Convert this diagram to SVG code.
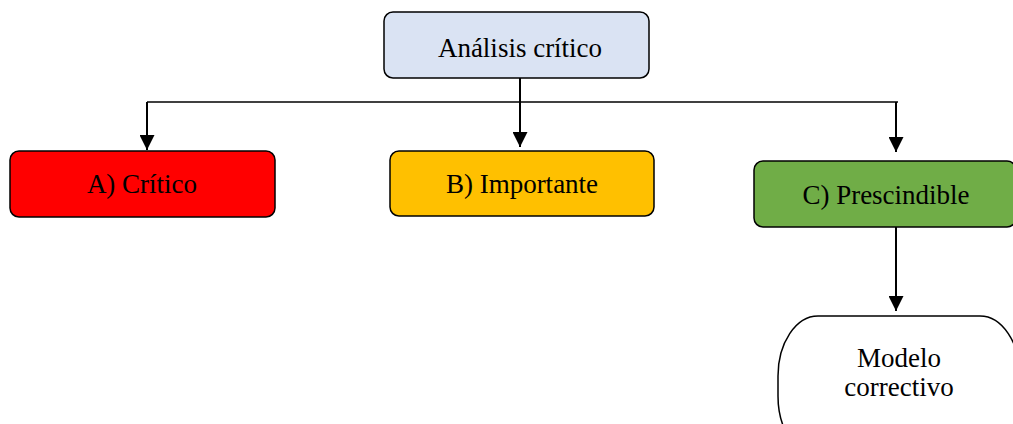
<svg xmlns="http://www.w3.org/2000/svg" width="1013" height="424" viewBox="0 0 1013 424">
  <style>
    .box { stroke: #000; stroke-width: 1.5; }
    .lbl { font-family: 'Liberation Serif', 'Times New Roman', Times, serif; font-size: 27px; fill: #000; text-anchor: middle; }
    .wire { stroke: #000; stroke-width: 1.5; fill: none; }
    .arrow { stroke: #000; stroke-width: 2; fill: none; marker-end: url(#head); }
  </style>
  <defs>
    <marker id="head" viewBox="0 0 10 10" refX="10" refY="5" markerWidth="15" markerHeight="15" markerUnits="userSpaceOnUse" orient="auto" preserveAspectRatio="none">
      <path d="M0,0 L10,5 L0,10 z" fill="#000"/>
    </marker>
  </defs>
  <rect width="1013" height="424" fill="#fff"/>

  <g id="connectors">
    <line class="wire" x1="147" y1="102" x2="898" y2="102"/>
    <line class="arrow" x1="520" y1="78" x2="520" y2="147"/>
    <line class="arrow" x1="147" y1="102" x2="147" y2="150"/>
    <line class="arrow" x1="896" y1="102" x2="896" y2="152"/>
    <line class="arrow" x1="896" y1="227" x2="896" y2="311"/>
  </g>

  <g id="analisis">
    <rect class="box" x="384" y="12" width="265" height="66" rx="9" fill="#DAE3F3"/>
    <text class="lbl" x="520" y="57">Análisis crítico</text>
  </g>
  <g id="critico">
    <rect class="box" x="10" y="151" width="265" height="66" rx="9" fill="#FF0000"/>
    <text class="lbl" x="142" y="193">A) Crítico</text>
  </g>
  <g id="importante">
    <rect class="box" x="390" y="151" width="264" height="65" rx="9" fill="#FFC000"/>
    <text class="lbl" x="522" y="193">B) Importante</text>
  </g>
  <g id="prescindible">
    <rect class="box" x="754" y="161" width="262" height="66" rx="9" fill="#70AD47"/>
    <text class="lbl" x="886" y="204">C) Prescindible</text>
  </g>
  <g id="modelo">
    <rect class="box" x="778" y="316" width="242" height="140" rx="40" ry="60" fill="#fff"/>
    <text class="lbl" x="899" y="367">Modelo</text>
    <text class="lbl" x="899" y="396">correctivo</text>
  </g>
</svg>
